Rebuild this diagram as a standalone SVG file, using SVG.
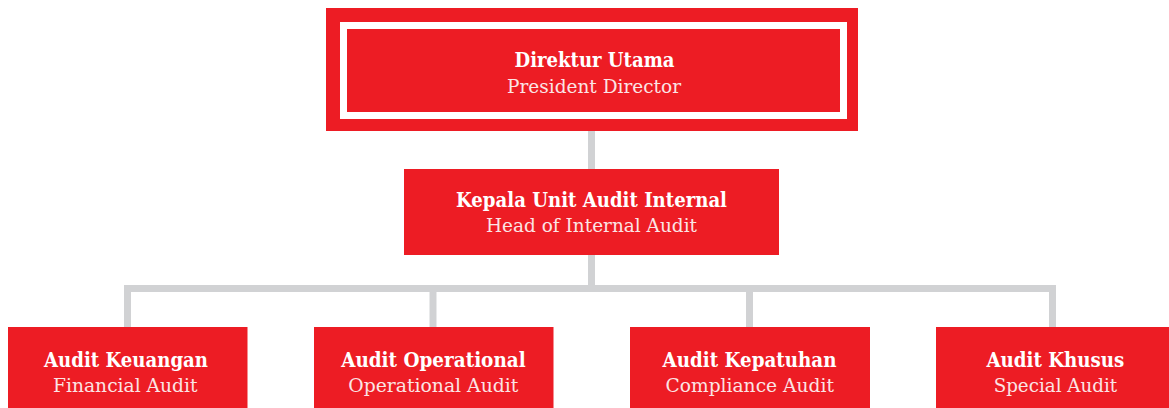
<svg xmlns="http://www.w3.org/2000/svg" width="1169" height="408" viewBox="0 0 1169 408">
  <style>
    .box { fill: #ED1C24; }
    .conn { fill: none; stroke: #D1D2D4; stroke-width: 7; stroke-linecap: butt; stroke-linejoin: miter; }
    .t1 { font-family: "DejaVu Serif", "Liberation Serif", serif; font-weight: bold; font-size: 20px; fill: #FFFFFF; text-anchor: middle; }
    .t2 { font-family: "DejaVu Serif", "Liberation Serif", serif; font-size: 19px; fill: #FBE4E5; text-anchor: middle; }
  </style>
  <rect width="1169" height="408" fill="#FFFFFF"/>
  <g id="connectors">
    <path class="conn" d="M591.5,131 V169"/>
    <path class="conn" d="M591.5,255 V288.5"/>
    <path class="conn" d="M127.5,327 V288.5 H1052.5 V327"/>
    <path class="conn" d="M433,288.5 V327"/>
    <path class="conn" d="M749.5,288.5 V327"/>
  </g>
  <g id="president-director">
    <rect class="box" x="326" y="8" width="532" height="123"/>
    <rect x="340" y="22" width="507" height="97" fill="#FFFFFF"/>
    <rect class="box" x="347" y="29" width="493" height="83"/>
    <text class="t1" x="594.5" y="67" textLength="160" lengthAdjust="spacingAndGlyphs">Direktur Utama</text>
    <text class="t2" x="594" y="93" textLength="174" lengthAdjust="spacingAndGlyphs">President Director</text>
  </g>
  <g id="head-internal-audit">
    <rect class="box" x="404" y="169" width="375" height="86"/>
    <text class="t1" x="591.5" y="206.5" textLength="271" lengthAdjust="spacingAndGlyphs">Kepala Unit Audit Internal</text>
    <text class="t2" x="591.5" y="231.5" textLength="211" lengthAdjust="spacingAndGlyphs">Head of Internal Audit</text>
  </g>
  <g id="financial-audit">
    <rect class="box" x="8" y="327" width="239.5" height="81"/>
    <text class="t1" x="126" y="366.5" textLength="164" lengthAdjust="spacingAndGlyphs">Audit Keuangan</text>
    <text class="t2" x="125.3" y="391.5" textLength="144.5" lengthAdjust="spacingAndGlyphs">Financial Audit</text>
  </g>
  <g id="operational-audit">
    <rect class="box" x="314" y="327" width="239.5" height="81"/>
    <text class="t1" x="433.4" y="366.5" textLength="184.5" lengthAdjust="spacingAndGlyphs">Audit Operational</text>
    <text class="t2" x="433.3" y="391.5" textLength="170" lengthAdjust="spacingAndGlyphs">Operational Audit</text>
  </g>
  <g id="compliance-audit">
    <rect class="box" x="630" y="327" width="240" height="81"/>
    <text class="t1" x="749.5" y="366.5" textLength="174" lengthAdjust="spacingAndGlyphs">Audit Kepatuhan</text>
    <text class="t2" x="749.7" y="391.5" textLength="168.5" lengthAdjust="spacingAndGlyphs">Compliance Audit</text>
  </g>
  <g id="special-audit">
    <rect class="box" x="936" y="327" width="240" height="81"/>
    <text class="t1" x="1055.4" y="366.5" textLength="138" lengthAdjust="spacingAndGlyphs">Audit Khusus</text>
    <text class="t2" x="1055.4" y="391.5" textLength="123.5" lengthAdjust="spacingAndGlyphs">Special Audit</text>
  </g>
</svg>
